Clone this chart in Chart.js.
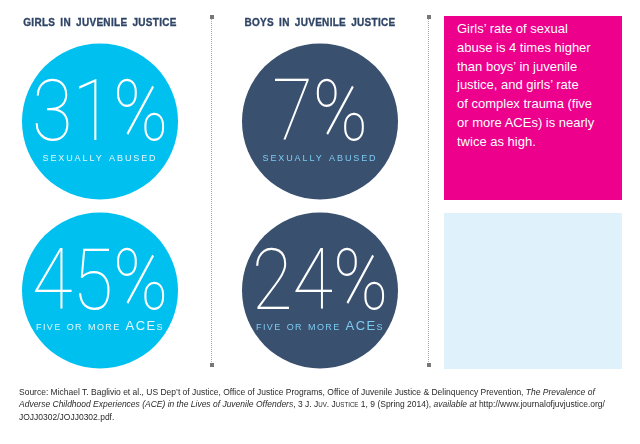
<!DOCTYPE html>
<html>
<head>
<meta charset="utf-8">
<script src="https://cdn.jsdelivr.net/npm/chart.js@4"></script>
<style>
    body { margin: 0; width: 640px; height: 444px; background: #fff; position: relative; overflow: hidden; font-family: "Liberation Sans", Arial, sans-serif; }
    .title { position: absolute; top: 17px; width: 220px; text-align: center; font-weight: bold; font-size: 10px; color: #2f4466; letter-spacing: 0.3px; word-spacing: 2px; -webkit-text-stroke: 0.3px #2f4466; }
    .vline { position: absolute; top: 17px; height: 349px; border-left: 1px dotted #a8a8a8; }
    .dot { position: absolute; width: 4px; height: 4px; background: #777; }
    #pink { position: absolute; left: 444px; top: 16px; width: 178px; height: 184px; background: #ec008c; color: #fff; font-size: 13px; line-height: 18.8px; box-sizing: border-box; padding: 4px 0 0 13px; }
    #pale { position: absolute; left: 444px; top: 213px; width: 178px; height: 156px; background: #dff1fb; }
    #source { position: absolute; left: 19px; top: 386px; font-family: "Liberation Sans", Arial, sans-serif; font-size: 9.6px; line-height: 12.4px; color: #2a2a2a; white-space: nowrap; transform: scaleX(0.885); transform-origin: 0 0; }
    /* bubble charts pad the chart area by the largest radius (78px), so the canvas reaches past the page edge */
    #chartBox { position: absolute; left: -88px; top: -41.5px; width: 596px; height: 494px; }
</style>
</head>
<body>
<div id="chartBox"><canvas id="circles" width="596" height="494"></canvas></div>

<div class="title" id="t0" style="left:-10px"></div>
<div class="title" id="t1" style="left:210px"></div>

<div class="vline" style="left:211px"></div>
<div class="vline" style="left:428px"></div>
<div class="dot" style="left:210px; top:15px"></div>
<div class="dot" style="left:210px; top:363px"></div>
<div class="dot" style="left:427px; top:15px"></div>
<div class="dot" style="left:427px; top:363px"></div>

<div id="pink">Girls’ rate of sexual<br>abuse is 4 times higher<br>than boys’ in juvenile<br>justice, and girls’ rate<br>of complex trauma (five<br>or more ACEs) is nearly<br>twice as high.</div>
<div id="pale"></div>

<div id="source">Source: Michael T. Baglivio et al., US Dep’t of Justice, Office of Justice Programs, Office of Juvenile Justice &amp; Delinquency Prevention, <i>The Prevalence of</i><br><i>Adverse Childhood Experiences (ACE) in the Lives of Juvenile Offenders</i>, 3 J. <span style="font-variant:small-caps">Juv. Justice</span> 1, 9 (Spring 2014), <i>available at</i> http://www.journalofjuvjustice.org/<br>JOJJ0302/JOJJ0302.pdf.</div>

<script>
// Data
const groups = ['GIRLS IN JUVENILE JUSTICE', 'BOYS IN JUVENILE JUSTICE'];
const measures = ['sexually abused', 'five or more ACEs'];
const girlsPct = [31, 45];
const boysPct = [7, 24];

// Color scheme
const colors = {
    cyan: '#00c0f0',
    navy: '#3a506f',
    cyanLabel: '#e6f8ff',
    navyLabel: '#7ecbf2'
};

document.getElementById('t0').textContent = groups[0];
document.getElementById('t1').textContent = groups[1];

// points: x = group index, y = measure index
function toPoints(values, groupIdx) {
    return values.map((v, i) => ({ x: groupIdx, y: i, r: 78, pct: v }));
}

// Draw the big percentage and the caption inside every circle
const circleText = {
    id: 'circleText',
    afterDatasetsDraw(chart) {
        const ctx = chart.ctx;
        chart.data.datasets.forEach((ds, di) => {
            chart.getDatasetMeta(di).data.forEach((el, i) => {
                const pt = ds.data[i];
                ctx.save();
                ctx.textAlign = 'center';
                ctx.textBaseline = 'alphabetic';
                ctx.fillStyle = '#fff';
                ctx.font = '100 86px Roboto, Lato, "Open Sans", sans-serif';
                // the original digits are narrower than Roboto's
                ctx.translate(el.x, el.y + 18);
                ctx.scale(0.86, 1);
                ctx.fillText(pt.pct + '%', 0, 0);
                ctx.restore();

                ctx.save();
                ctx.textAlign = 'center';
                ctx.fillStyle = ds.labelColor;
                ctx.font = '13px "Liberation Sans", Arial, sans-serif';
                ctx.fontVariantCaps = 'small-caps';
                ctx.letterSpacing = i === 0 ? '1.9px' : '1.4px';
                ctx.fillText(measures[i], el.x, el.y + 39);
                ctx.restore();
            });
        });
    }
};

const chart = new Chart(document.getElementById('circles'), {
    type: 'bubble',
    data: {
        datasets: [{
            label: groups[0],
            data: toPoints(girlsPct, 0),
            backgroundColor: colors.cyan,
            borderWidth: 0,
            clip: false,
            labelColor: colors.cyanLabel
        }, {
            label: groups[1],
            data: toPoints(boysPct, 1),
            backgroundColor: colors.navy,
            borderWidth: 0,
            clip: false,
            labelColor: colors.navyLabel
        }]
    },
    options: {
        responsive: false,
        animation: false,
        layout: { padding: 0 },
        scales: {
            x: { type: 'linear', min: -0.5, max: 1.5, display: false },
            y: { type: 'linear', min: -0.5, max: 1.5, reverse: true, display: false }
        },
        plugins: {
            legend: { display: false },
            tooltip: { enabled: false }
        }
    },
    plugins: [circleText]
});
</script>
</body>
</html>
